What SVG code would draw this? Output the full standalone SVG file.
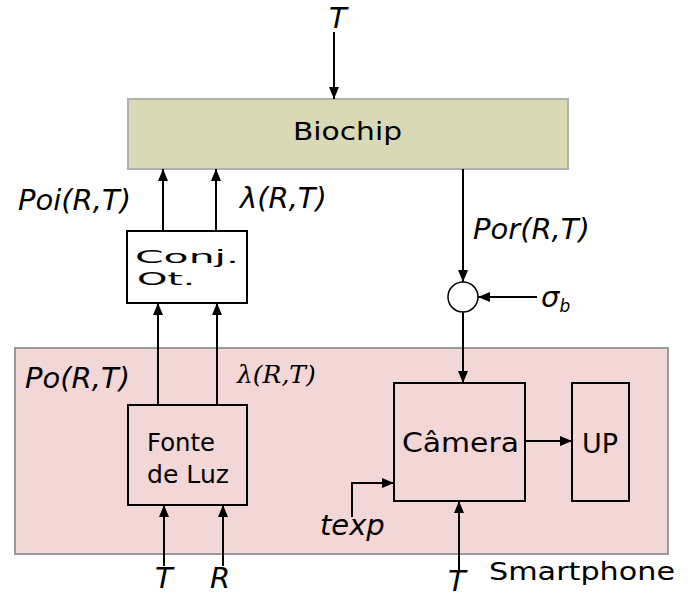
<svg xmlns="http://www.w3.org/2000/svg" width="694" height="595" viewBox="0 0 694 595">
<defs>
<marker id="ah" markerUnits="userSpaceOnUse" markerWidth="13" markerHeight="11" refX="12" refY="5.5" orient="auto">
<path d="M0,0.5 L12,5.5 L0,10.5 z" fill="#000"/>
</marker>
<style>
.box{fill:none;stroke:#000;stroke-width:2}
.wbox{fill:#fff;stroke:#000;stroke-width:2}
.ln{fill:none;stroke:#000;stroke-width:2;marker-end:url(#ah)}
.sans{font-family:"DejaVu Sans","Liberation Sans",sans-serif;fill:#000}
.it{font-family:"DejaVu Sans","Liberation Sans",sans-serif;font-style:italic;font-size:29px;fill:#000}
.ser{font-family:"DejaVu Serif","Liberation Serif",serif;font-style:italic;font-size:25px;fill:#000}
</style>
</defs>
<rect width="694" height="595" fill="#fff"/>
<g id="smartphone">
<rect x="15" y="348" width="653" height="206" fill="#f3d6d6" stroke="#999" stroke-width="2"/>
<text class="sans" x="489" y="580" font-size="25" textLength="186" lengthAdjust="spacingAndGlyphs">Smartphone</text>
</g>
<g id="biochip">
<rect x="128" y="99" width="440" height="70" fill="#d9d9b5" stroke="#b0b0b0" stroke-width="2"/>
<text class="sans" x="293" y="140" font-size="24" textLength="109" lengthAdjust="spacingAndGlyphs">Biochip</text>
</g>
<g id="conj">
<rect class="wbox" x="127" y="231" width="120" height="72"/>
<text class="sans" x="135" y="263" font-size="18" textLength="104" lengthAdjust="spacingAndGlyphs">Conj.</text>
<text class="sans" x="137" y="285" font-size="18" textLength="58" lengthAdjust="spacingAndGlyphs">Ot.</text>
</g>
<g id="fonte">
<rect class="box" x="128" y="405" width="119" height="100"/>
<text class="sans" x="147" y="451" font-size="24" textLength="68" lengthAdjust="spacingAndGlyphs">Fonte</text>
<text class="sans" x="147" y="483" font-size="24" textLength="82" lengthAdjust="spacingAndGlyphs">de Luz</text>
</g>
<g id="camera">
<rect class="box" x="394" y="383" width="131" height="118"/>
<text class="sans" x="402" y="452" font-size="26" textLength="117" lengthAdjust="spacingAndGlyphs">Câmera</text>
</g>
<g id="up">
<rect class="box" x="572" y="383" width="57" height="118"/>
<text class="sans" x="582" y="453" font-size="27" textLength="36" lengthAdjust="spacingAndGlyphs">UP</text>
</g>
<g id="sum">
<circle cx="463" cy="297" r="15" fill="#fff" stroke="#000" stroke-width="1.5"/>
</g>
<g id="connectors">
<line class="ln" x1="334" y1="32" x2="334" y2="99"/>
<line class="ln" x1="163" y1="231" x2="163" y2="169"/>
<line class="ln" x1="216" y1="231" x2="216" y2="169"/>
<line class="ln" x1="158" y1="405" x2="158" y2="303"/>
<line class="ln" x1="217" y1="405" x2="217" y2="303"/>
<line class="ln" x1="463" y1="169" x2="463" y2="282"/>
<line class="ln" x1="537" y1="297" x2="478" y2="297"/>
<line class="ln" x1="463" y1="312" x2="463" y2="383"/>
<line class="ln" x1="525" y1="441" x2="572" y2="441"/>
<polyline class="ln" points="352,517 352,483 394,483"/>
<line class="ln" x1="459" y1="570" x2="459" y2="501"/>
<line class="ln" x1="164" y1="566" x2="164" y2="505"/>
<line class="ln" x1="223" y1="566" x2="223" y2="505"/>
</g>
<g id="labels">
<text class="it" x="329" y="28">T</text>
<text class="it" x="18" y="210">Poi(R,T)</text>
<text class="it" x="240" y="208">λ(R,T)</text>
<text class="it" x="473" y="239">Por(R,T)</text>
<text class="it" x="541" y="307">σ<tspan font-size="17" dy="5">b</tspan></text>
<text class="it" x="25" y="388">Po(R,T)</text>
<text class="ser" x="237" y="383">λ(R,T)</text>
<text class="it" x="320" y="535">texp</text>
<text class="it" x="155" y="588">T</text>
<text class="it" x="210" y="588">R</text>
<text class="it" x="448" y="591">T</text>
</g>
</svg>
